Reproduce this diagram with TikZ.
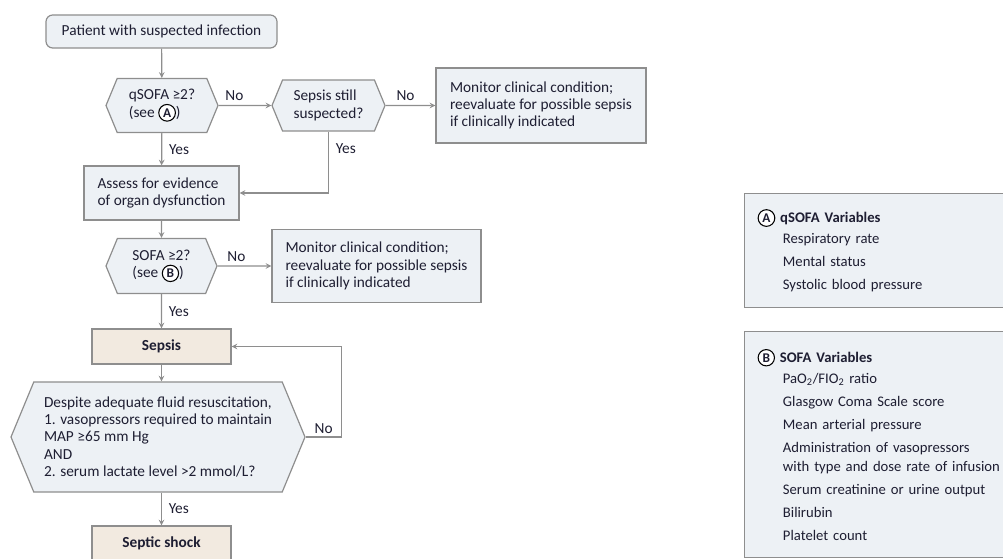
\documentclass[tikz,border=0pt]{standalone}
\usepackage{fontspec}
\setmainfont{Carlito}
\usepackage{xcolor}
\usetikzlibrary{shapes.symbols, arrows, positioning}
\definecolor{boxblue}{HTML}{EDF1F5}
\definecolor{boxtan}{HTML}{F2EAE0}
\definecolor{edgegray}{HTML}{8E8E8E}
\definecolor{inkdark}{HTML}{1E1E32}
\tikzstyle{startbox} = [rectangle, rounded corners=5pt,
minimum width=173.25pt,
minimum height=24.75pt,
align=center,
draw=edgegray, fill=boxblue, line width=0.9pt]
\tikzstyle{question} = [signal,
signal to=west and east,
signal pointer angle=135,
align=left,
inner sep=2pt,
draw=edgegray, fill=boxblue, line width=0.9pt]
\tikzstyle{action} = [rectangle,
align=left,
draw=edgegray, fill=boxblue, line width=0.9pt]
\tikzstyle{outcome} = [rectangle,
minimum width=104.25pt,
minimum height=26.25pt,
font=\fontsize{11.5}{13}\selectfont\bfseries,
draw=edgegray, fill=boxtan, line width=0.9pt]
\tikzstyle{varbox} = [rectangle, anchor=north west,
minimum width=210pt,
inner xsep=9.75pt,
text width=200pt,
align=left,
font=\fontsize{11}{13}\selectfont,
draw=edgegray, fill=boxblue, line width=0.9pt]
\tikzstyle{arrow} = [line width=0.9pt, draw=edgegray, ->, >=stealth]
\tikzstyle{answer} = [inner sep=1pt]
% circled letter A / B
\newcommand{\circlet}[1]{\tikz[baseline=(L.base)]\node[circle, draw=black, fill=white,
  line width=0.8pt, inner sep=1.3pt, text width=, align=center,
  minimum size=0pt, font=\fontsize{10}{11}\selectfont\bfseries] (L) {#1};}

\begin{document}
\begin{tikzpicture}[x=0.75pt, y=0.75pt,
  every node/.append style={text=inkdark, font=\fontsize{11.5}{13}\selectfont}]
        \useasboundingbox (0,0) rectangle (1003,-559);
        \clip (0,0) rectangle (1003,-559);

        % main column
        \node (start) [startbox] at (161.5,-31.5) {Patient with suspected infection};
        \node (qsofa) [question, minimum width=84pt, minimum height=40.5pt] at (162,-105.5) {qSOFA ≥2?\\(see \circlet{A})};
        \node (still) [question, minimum width=84.75pt, minimum height=38.25pt] at (328.5,-105.5) {Sepsis still\\suspected?};
        \node (mon1) [action, minimum width=157.5pt, minimum height=56.25pt] at (541,-105.5) {Monitor clinical condition;\\reevaluate for possible sepsis\\if clinically indicated};
        \node (assess) [action, minimum width=116.25pt, minimum height=40.5pt] at (161.5,-193) {Assess for evidence\\of organ dysfunction};
        \node (sofa) [question, minimum width=83.25pt, minimum height=41.25pt] at (161.5,-266) {SOFA ≥2?\\(see \circlet{B})};
        \node (mon2) [action, minimum width=156.75pt, minimum height=54.75pt] at (376.5,-266) {Monitor clinical condition;\\reevaluate for possible sepsis\\if clinically indicated};
        \node (sepsis) [outcome] at (161.5,-346.5) {Sepsis};
        \node (despite) [question, minimum width=220.5pt, minimum height=82.5pt] at (158,-437) {Despite adequate fluid resuscitation,\\1. vasopressors required to maintain\\MAP ≥65 mm Hg\\AND\\2. serum lactate level >2 mmol/L?};
        \node (shock) [outcome] at (161.5,-543.5) {Septic shock};

        % variable boxes
        \node (varA) [varbox, minimum height=85.5pt] at (744,-193) {\circlet{A} \textbf{qSOFA Variables}\\[3pt]
        \hspace*{19pt}Respiratory rate\\[4.25pt]
        \hspace*{19pt}Mental status\\[4.25pt]
        \hspace*{19pt}Systolic blood pressure};
        \node (varB) [varbox, minimum height=169.5pt] at (744,-331) {\circlet{B} \textbf{SOFA Variables}\\[3pt]
        \hspace*{19pt}PaO\textsubscript{2}/FIO\textsubscript{2} ratio\\[4.25pt]
        \hspace*{19pt}Glasgow Coma Scale score\\[4.25pt]
        \hspace*{19pt}Mean arterial pressure\\[4.25pt]
        \hspace*{19pt}Administration of vasopressors\\[1pt]
        \hspace*{19pt}with type and dose rate of infusion\\[4.25pt]
        \hspace*{19pt}Serum creatinine or urine output\\[4.25pt]
        \hspace*{19pt}Bilirubin\\[4.25pt]
        \hspace*{19pt}Platelet count};

        % connectors
        \draw [arrow] (start) -- (qsofa);
        \draw [arrow] (qsofa) -- node[answer, pos=0.3, above=2pt] {No} (still);
        \draw [arrow] (still) -- node[answer, pos=0.4, above=2pt] {No} (mon1);
        \draw [arrow] (qsofa) -- node[answer, right=4pt] {Yes} (assess);
        \draw [arrow] (still.south) |- node[answer, pos=0.14, right=4pt] {Yes} (assess.east);
        \draw [arrow] (assess) -- (sofa);
        \draw [arrow] (sofa) -- node[answer, pos=0.35, above=2pt] {No} (mon2);
        \draw [arrow] (sofa) -- node[answer, right=4pt] {Yes} (sepsis);
        \draw [arrow] (sepsis.south) -- (sepsis.south |- despite.north);
        \draw [arrow] (despite.east) -- ++(36,0) node[answer, pos=0.5, above=1pt] {No} |- (sepsis.east);
        \draw [arrow] (shock |- despite.south) -- node[answer, right=4pt] {Yes} (shock);

    \end{tikzpicture}
\end{document}
